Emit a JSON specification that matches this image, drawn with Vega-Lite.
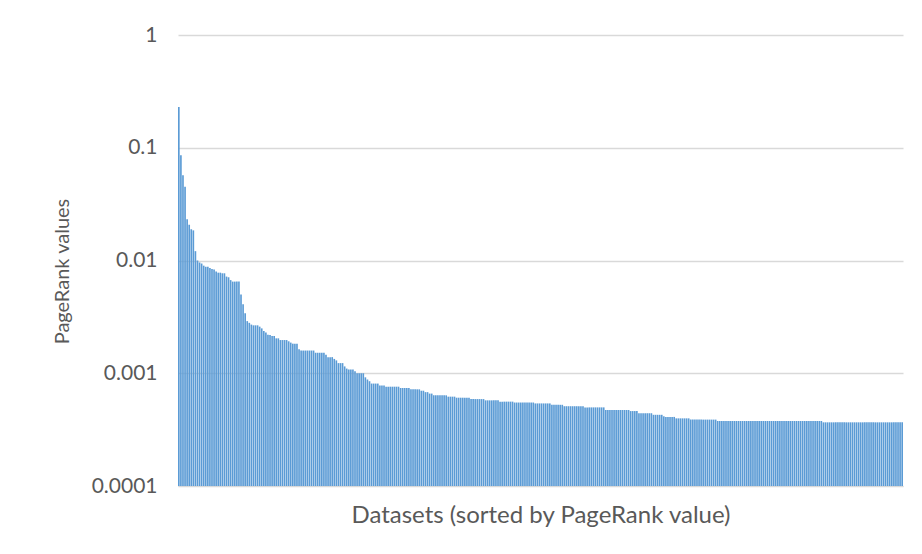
{
"$schema": "https://vega.github.io/schema/vega-lite/v6.json",
"width": 725,
"height": 451,
"autosize": {"type": "none"},
"padding": {"left": 178, "top": 35, "right": 19, "bottom": 68},
"background": "white",
"config": {"view": {"stroke": null}, "font": "Lato"},
"data": {"values": [
{"rank":1,"value":0.23},{"rank":2,"value":0.086},{"rank":3,"value":0.057},{"rank":4,"value":0.045},{"rank":5,"value":0.0232},{"rank":6,"value":0.0207},{"rank":7,"value":0.0189},{"rank":8,"value":0.0185},{"rank":9,"value":0.0121},{"rank":10,"value":0.01},
{"rank":11,"value":0.0096},{"rank":12,"value":0.0094},{"rank":13,"value":0.009},{"rank":14,"value":0.0088},{"rank":15,"value":0.0088},{"rank":16,"value":0.0086},{"rank":17,"value":0.0084},{"rank":18,"value":0.0083},{"rank":19,"value":0.008},{"rank":20,"value":0.0078},
{"rank":21,"value":0.0078},{"rank":22,"value":0.0077},{"rank":23,"value":0.0077},{"rank":24,"value":0.0072},{"rank":25,"value":0.0071},{"rank":26,"value":0.0067},{"rank":27,"value":0.0065},{"rank":28,"value":0.0065},{"rank":29,"value":0.0065},{"rank":30,"value":0.0065},
{"rank":31,"value":0.005},{"rank":32,"value":0.0041},{"rank":33,"value":0.0034},{"rank":34,"value":0.0029},{"rank":35,"value":0.0028},{"rank":36,"value":0.0027},{"rank":37,"value":0.00266},{"rank":38,"value":0.00266},{"rank":39,"value":0.00266},{"rank":40,"value":0.00259},
{"rank":41,"value":0.0025},{"rank":42,"value":0.00237},{"rank":43,"value":0.0023},{"rank":44,"value":0.0022},{"rank":45,"value":0.00218},{"rank":46,"value":0.00214},{"rank":47,"value":0.00214},{"rank":48,"value":0.00204},{"rank":49,"value":0.00204},{"rank":50,"value":0.00197},
{"rank":51,"value":0.00197},{"rank":52,"value":0.00197},{"rank":53,"value":0.00197},{"rank":54,"value":0.00192},{"rank":55,"value":0.00187},{"rank":56,"value":0.00183},{"rank":57,"value":0.00183},{"rank":58,"value":0.00183},{"rank":59,"value":0.00163},{"rank":60,"value":0.00159},
{"rank":61,"value":0.00159},{"rank":62,"value":0.00159},{"rank":63,"value":0.00159},{"rank":64,"value":0.00159},{"rank":65,"value":0.00159},{"rank":66,"value":0.00159},{"rank":67,"value":0.00152},{"rank":68,"value":0.00152},{"rank":69,"value":0.00152},{"rank":70,"value":0.00152},
{"rank":71,"value":0.00152},{"rank":72,"value":0.00146},{"rank":73,"value":0.00139},{"rank":74,"value":0.00139},{"rank":75,"value":0.00139},{"rank":76,"value":0.00134},{"rank":77,"value":0.0013},{"rank":78,"value":0.00123},{"rank":79,"value":0.00123},{"rank":80,"value":0.00123},
{"rank":81,"value":0.00115},{"rank":82,"value":0.0011},{"rank":83,"value":0.00108},{"rank":84,"value":0.00108},{"rank":85,"value":0.00108},{"rank":86,"value":0.00104},{"rank":87,"value":0.001},{"rank":88,"value":0.001},{"rank":89,"value":0.001},{"rank":90,"value":0.001},
{"rank":91,"value":0.00092},{"rank":92,"value":0.00088},{"rank":93,"value":0.00085},{"rank":94,"value":0.00081},{"rank":95,"value":0.00081},{"rank":96,"value":0.00081},{"rank":97,"value":0.00081},{"rank":98,"value":0.00078},{"rank":99,"value":0.00078},{"rank":100,"value":0.00078},
{"rank":101,"value":0.00076},{"rank":102,"value":0.00076},{"rank":103,"value":0.00076},{"rank":104,"value":0.00076},{"rank":105,"value":0.00076},{"rank":106,"value":0.00076},{"rank":107,"value":0.00076},{"rank":108,"value":0.00074},{"rank":109,"value":0.00074},{"rank":110,"value":0.00074},
{"rank":111,"value":0.00074},{"rank":112,"value":0.00074},{"rank":113,"value":0.00072},{"rank":114,"value":0.00072},{"rank":115,"value":0.00072},{"rank":116,"value":0.00072},{"rank":117,"value":0.00072},{"rank":118,"value":0.0007},{"rank":119,"value":0.0007},{"rank":120,"value":0.00068},
{"rank":121,"value":0.00068},{"rank":122,"value":0.00066},{"rank":123,"value":0.00066},{"rank":124,"value":0.000637},{"rank":125,"value":0.000637},{"rank":126,"value":0.000637},{"rank":127,"value":0.000637},{"rank":128,"value":0.000637},{"rank":129,"value":0.000637},{"rank":130,"value":0.000637},
{"rank":131,"value":0.00062},{"rank":132,"value":0.00062},{"rank":133,"value":0.00062},{"rank":134,"value":0.00062},{"rank":135,"value":0.000607},{"rank":136,"value":0.000607},{"rank":137,"value":0.000607},{"rank":138,"value":0.000607},{"rank":139,"value":0.000607},{"rank":140,"value":0.000607},
{"rank":141,"value":0.000607},{"rank":142,"value":0.00059},{"rank":143,"value":0.00059},{"rank":144,"value":0.00059},{"rank":145,"value":0.00059},{"rank":146,"value":0.00059},{"rank":147,"value":0.00059},{"rank":148,"value":0.00059},{"rank":149,"value":0.000575},{"rank":150,"value":0.000575},
{"rank":151,"value":0.000575},{"rank":152,"value":0.000575},{"rank":153,"value":0.000575},{"rank":154,"value":0.000575},{"rank":155,"value":0.000575},{"rank":156,"value":0.00056},{"rank":157,"value":0.00056},{"rank":158,"value":0.00056},{"rank":159,"value":0.00056},{"rank":160,"value":0.00056},
{"rank":161,"value":0.00056},{"rank":162,"value":0.00056},{"rank":163,"value":0.00055},{"rank":164,"value":0.00055},{"rank":165,"value":0.00055},{"rank":166,"value":0.00055},{"rank":167,"value":0.00055},{"rank":168,"value":0.00055},{"rank":169,"value":0.00055},{"rank":170,"value":0.00055},
{"rank":171,"value":0.00055},{"rank":172,"value":0.00055},{"rank":173,"value":0.00054},{"rank":174,"value":0.00054},{"rank":175,"value":0.00054},{"rank":176,"value":0.00054},{"rank":177,"value":0.00054},{"rank":178,"value":0.00054},{"rank":179,"value":0.00054},{"rank":180,"value":0.00054},
{"rank":181,"value":0.000525},{"rank":182,"value":0.000525},{"rank":183,"value":0.000525},{"rank":184,"value":0.000525},{"rank":185,"value":0.000525},{"rank":186,"value":0.000525},{"rank":187,"value":0.00051},{"rank":188,"value":0.00051},{"rank":189,"value":0.00051},{"rank":190,"value":0.00051},
{"rank":191,"value":0.00051},{"rank":192,"value":0.00051},{"rank":193,"value":0.00051},{"rank":194,"value":0.00051},{"rank":195,"value":0.00051},{"rank":196,"value":0.00051},{"rank":197,"value":0.000498},{"rank":198,"value":0.000498},{"rank":199,"value":0.000498},{"rank":200,"value":0.000498},
{"rank":201,"value":0.000498},{"rank":202,"value":0.000498},{"rank":203,"value":0.000498},{"rank":204,"value":0.000498},{"rank":205,"value":0.000498},{"rank":206,"value":0.000498},{"rank":207,"value":0.000472},{"rank":208,"value":0.000472},{"rank":209,"value":0.000472},{"rank":210,"value":0.000472},
{"rank":211,"value":0.000472},{"rank":212,"value":0.000472},{"rank":213,"value":0.000472},{"rank":214,"value":0.000472},{"rank":215,"value":0.000472},{"rank":216,"value":0.000472},{"rank":217,"value":0.000472},{"rank":218,"value":0.000472},{"rank":219,"value":0.000462},{"rank":220,"value":0.000462},
{"rank":221,"value":0.000462},{"rank":222,"value":0.000462},{"rank":223,"value":0.000442},{"rank":224,"value":0.000442},{"rank":225,"value":0.000442},{"rank":226,"value":0.000442},{"rank":227,"value":0.000442},{"rank":228,"value":0.000442},{"rank":229,"value":0.000442},{"rank":230,"value":0.000428},
{"rank":231,"value":0.000428},{"rank":232,"value":0.000428},{"rank":233,"value":0.000428},{"rank":234,"value":0.000428},{"rank":235,"value":0.000415},{"rank":236,"value":0.00041},{"rank":237,"value":0.00041},{"rank":238,"value":0.00041},{"rank":239,"value":0.00041},{"rank":240,"value":0.00041},
{"rank":241,"value":0.000398},{"rank":242,"value":0.000398},{"rank":243,"value":0.000398},{"rank":244,"value":0.000398},{"rank":245,"value":0.000398},{"rank":246,"value":0.000398},{"rank":247,"value":0.000398},{"rank":248,"value":0.000388},{"rank":249,"value":0.000388},{"rank":250,"value":0.000388},
{"rank":251,"value":0.000388},{"rank":252,"value":0.000388},{"rank":253,"value":0.000388},{"rank":254,"value":0.000388},{"rank":255,"value":0.000388},{"rank":256,"value":0.000388},{"rank":257,"value":0.000388},{"rank":258,"value":0.000388},{"rank":259,"value":0.000388},{"rank":260,"value":0.000388},
{"rank":261,"value":0.000377},{"rank":262,"value":0.000377},{"rank":263,"value":0.000377},{"rank":264,"value":0.000377},{"rank":265,"value":0.000377},{"rank":266,"value":0.000377},{"rank":267,"value":0.000377},{"rank":268,"value":0.000377},{"rank":269,"value":0.000377},{"rank":270,"value":0.000377},
{"rank":271,"value":0.000377},{"rank":272,"value":0.000377},{"rank":273,"value":0.000377},{"rank":274,"value":0.000377},{"rank":275,"value":0.000377},{"rank":276,"value":0.000377},{"rank":277,"value":0.000377},{"rank":278,"value":0.000377},{"rank":279,"value":0.000377},{"rank":280,"value":0.000377},
{"rank":281,"value":0.000377},{"rank":282,"value":0.000377},{"rank":283,"value":0.000377},{"rank":284,"value":0.000377},{"rank":285,"value":0.000377},{"rank":286,"value":0.000377},{"rank":287,"value":0.000377},{"rank":288,"value":0.000377},{"rank":289,"value":0.000377},{"rank":290,"value":0.000377},
{"rank":291,"value":0.000377},{"rank":292,"value":0.000377},{"rank":293,"value":0.000377},{"rank":294,"value":0.000377},{"rank":295,"value":0.000377},{"rank":296,"value":0.000377},{"rank":297,"value":0.000377},{"rank":298,"value":0.000377},{"rank":299,"value":0.000377},{"rank":300,"value":0.000377},
{"rank":301,"value":0.000377},{"rank":302,"value":0.000377},{"rank":303,"value":0.000377},{"rank":304,"value":0.000377},{"rank":305,"value":0.000377},{"rank":306,"value":0.000377},{"rank":307,"value":0.000377},{"rank":308,"value":0.000377},{"rank":309,"value":0.000377},{"rank":310,"value":0.000377},
{"rank":311,"value":0.000377},{"rank":312,"value":0.000367},{"rank":313,"value":0.000367},{"rank":314,"value":0.000367},{"rank":315,"value":0.000367},{"rank":316,"value":0.000367},{"rank":317,"value":0.000367},{"rank":318,"value":0.000367},{"rank":319,"value":0.000367},{"rank":320,"value":0.000367},
{"rank":321,"value":0.000367},{"rank":322,"value":0.000367},{"rank":323,"value":0.000367},{"rank":324,"value":0.000367},{"rank":325,"value":0.000367},{"rank":326,"value":0.000367},{"rank":327,"value":0.000367},{"rank":328,"value":0.000367},{"rank":329,"value":0.000367},{"rank":330,"value":0.000367},
{"rank":331,"value":0.000367},{"rank":332,"value":0.000367},{"rank":333,"value":0.000367},{"rank":334,"value":0.000367},{"rank":335,"value":0.000367},{"rank":336,"value":0.000367},{"rank":337,"value":0.000367},{"rank":338,"value":0.000367},{"rank":339,"value":0.000367},{"rank":340,"value":0.000367},
{"rank":341,"value":0.000367},{"rank":342,"value":0.000367},{"rank":343,"value":0.000367},{"rank":344,"value":0.000367},{"rank":345,"value":0.000367},{"rank":346,"value":0.000367},{"rank":347,"value":0.000367},{"rank":348,"value":0.000367},{"rank":349,"value":0.000367},{"rank":350,"value":0.000367}
]},
"mark": {"type": "bar", "color": "#5B9BD5"},
"encoding": {
  "x": {"field": "rank", "type": "ordinal", "sort": "ascending",
        "scale": {"paddingInner": 0.2, "paddingOuter": 0},
        "axis": {"labels": false, "ticks": false, "domain": true, "domainColor": "#d9d9d9", "domainWidth": 1,
                 "title": "Datasets (sorted by PageRank value)", "titleFont": "Lato", "titleFontSize": 24,
                 "titleFontWeight": "normal", "titleColor": "#595959", "titleY": 29, "titleBaseline": "middle"}},
  "y": {"field": "value", "type": "quantitative",
        "scale": {"type": "log", "domain": [0.0001, 1]},
        "axis": {"values": [0.0001, 0.001, 0.01, 0.1, 1], "format": "~g", "domain": false, "ticks": false,
                 "labelPadding": 21, "labelFont": "Lato", "labelFontSize": 21, "labelColor": "#595959",
                 "grid": true, "gridColor": "#d9d9d9", "gridWidth": 1.5,
                 "title": "PageRank values", "titleFont": "Lato", "titleFontSize": 20, "titleFontWeight": "normal",
                 "titleColor": "#595959", "titleX": -116, "titleY": 236, "titleAngle": -90,
                 "titleBaseline": "middle", "titleAlign": "center"}},
  "y2": {"datum": 0.0001}
}
}
